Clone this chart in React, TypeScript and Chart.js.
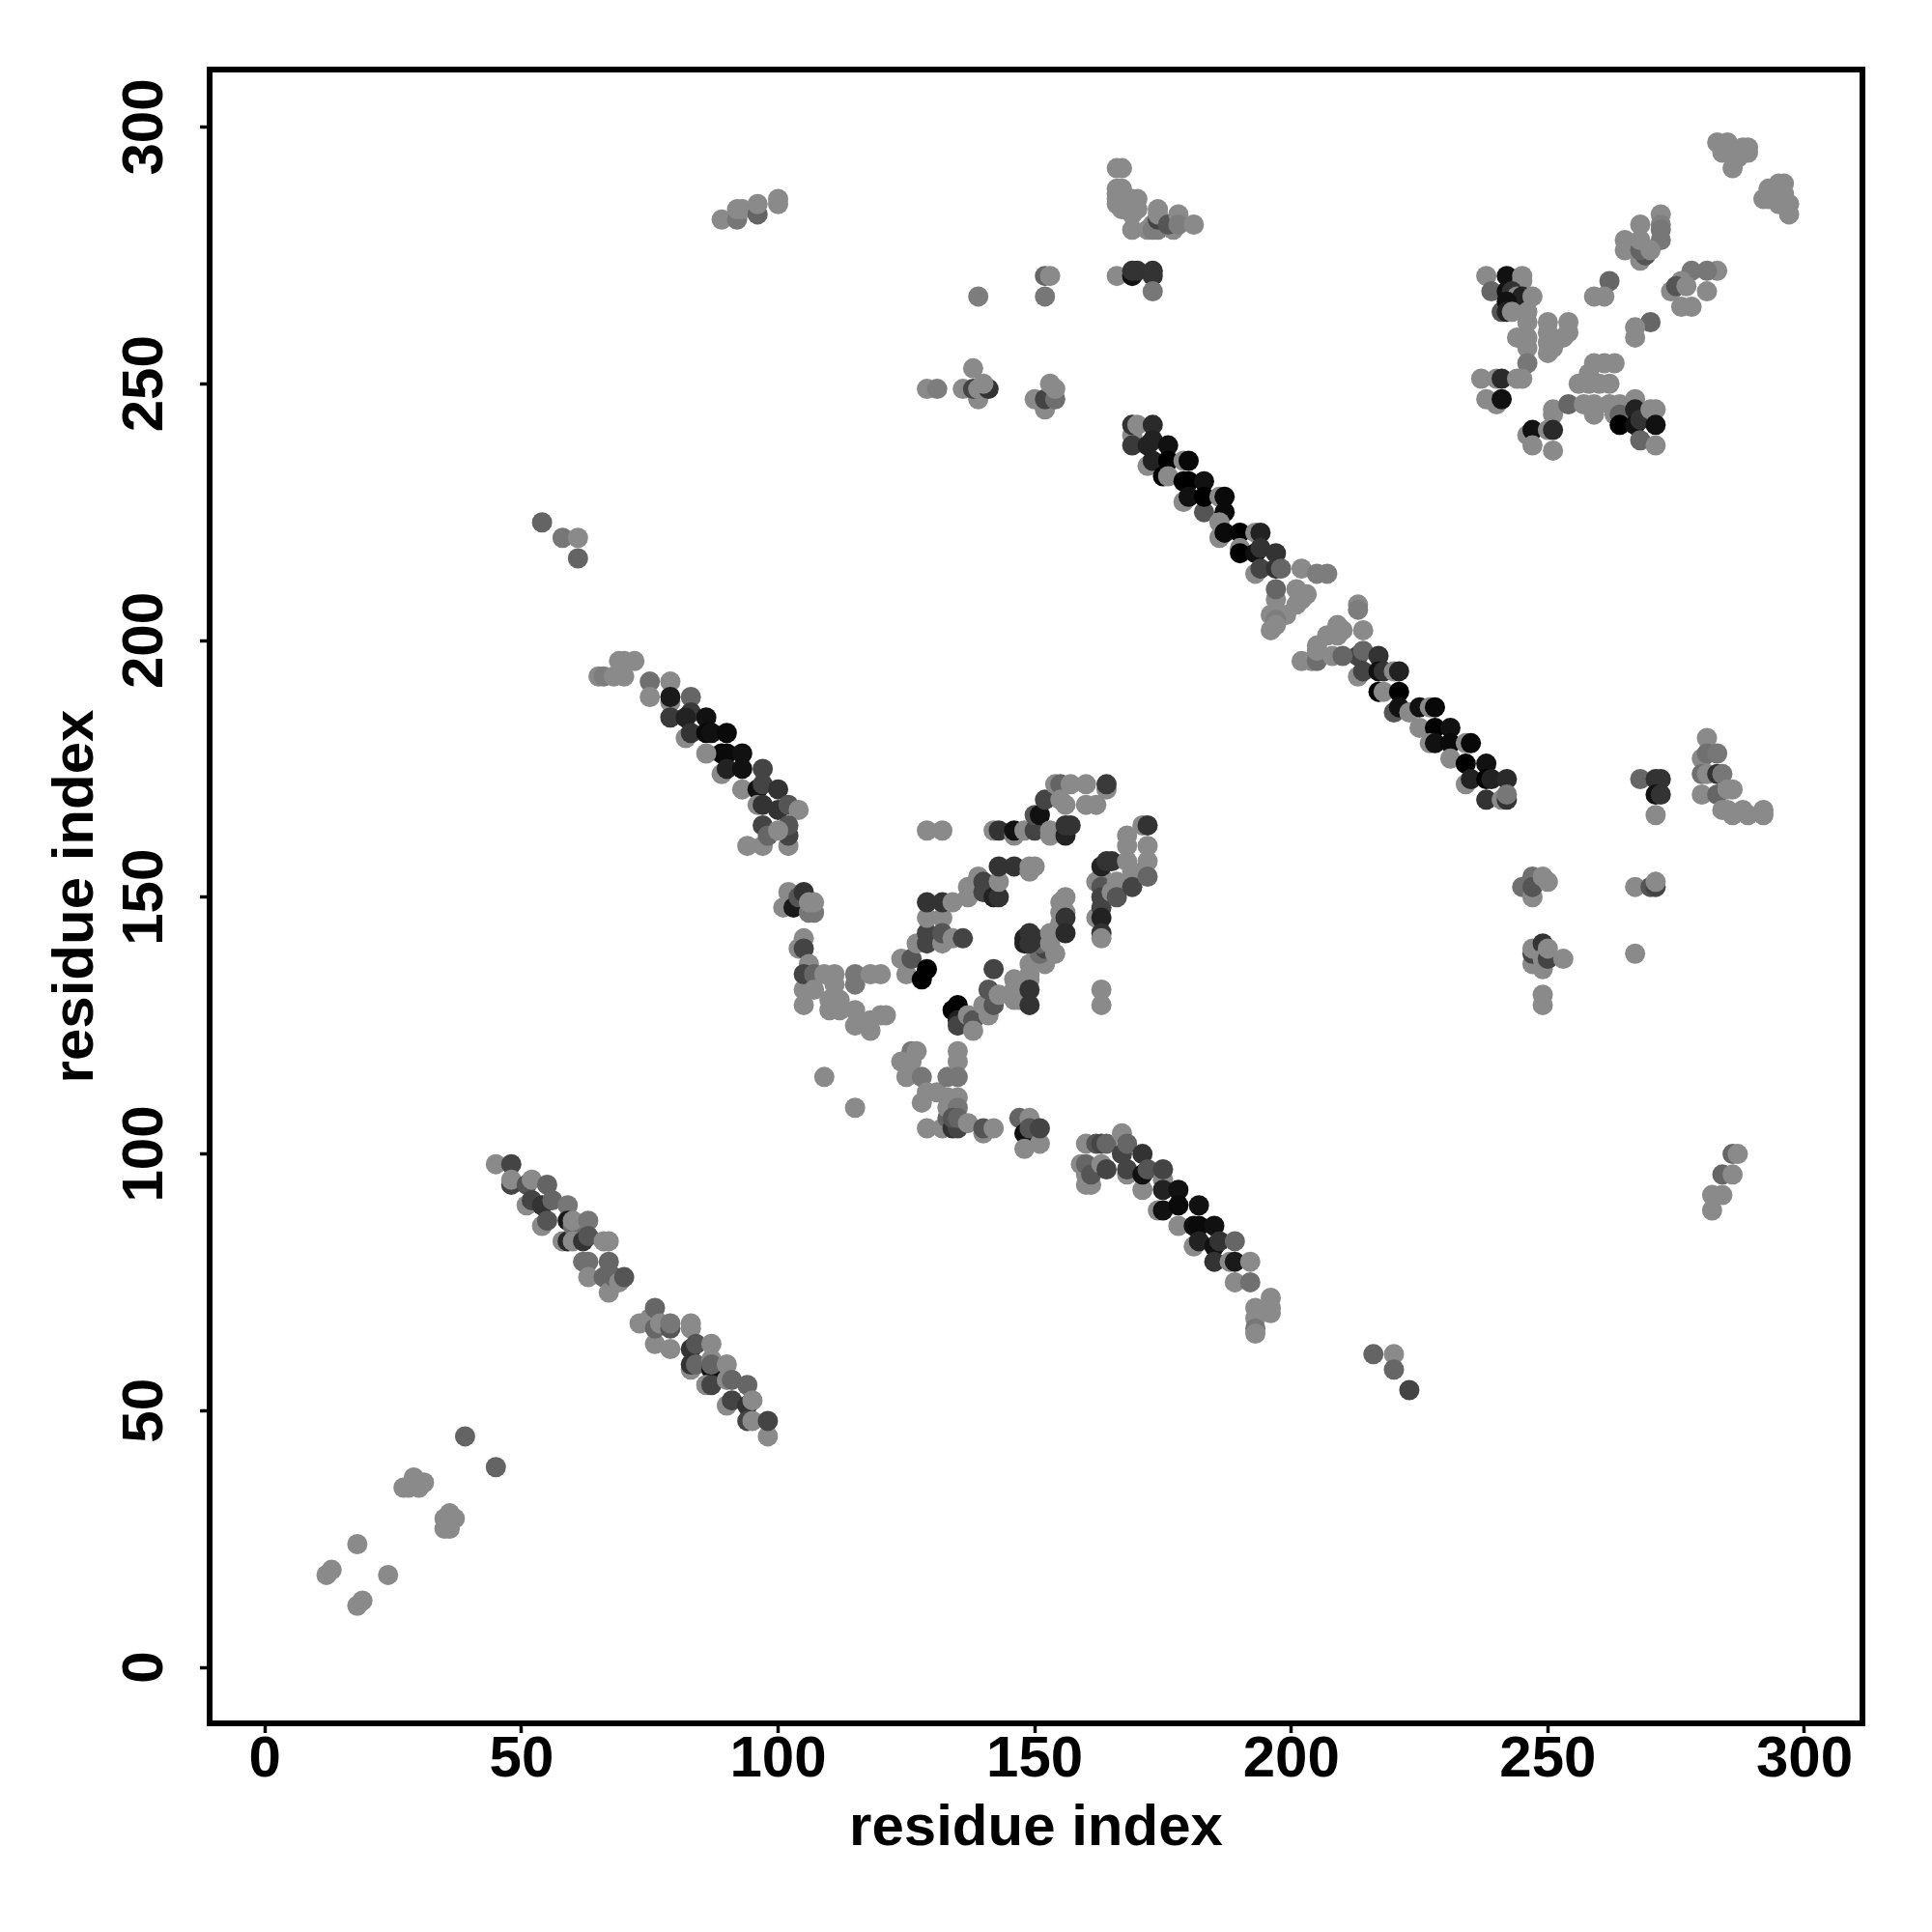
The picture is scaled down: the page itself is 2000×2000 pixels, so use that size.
import React, { useEffect, useRef } from "react";
import { Chart, registerables } from "chart.js";

Chart.register(...registerables);

const tickValues = [0, 50, 100, 150, 200, 250, 300];
const axisTitle = "residue index";
const L = 138; // lightest contact shade

type P = [number, number, number?];

const cornerLow: P[] = [[12,18],[13,19],[18,24],[24,18],[18,12],[19,13],[27,35],[28,35],[29,37],[30,36],[30,35],[31,36],[35,27],[36,27],[35,29],[36,30],[37,29],[36,28],[39,45,100],[45,39,100]];
const strandA: P[] = [[45,98],[48,98,68],[48,94,68],[48,95],[51,90],[51,94,85],[52,95],[55,94,100],[52,91,68],[54,90,51],[56,91,102],[54,86],[55,87,85],[59,90,119],[58,83],[59,83,40],[59,87,26],[60,86,110],[60,87],[63,87,119],[60,83],[62,83,51],[63,84,85],[66,83],[67,83],[62,79,112],[63,79,112],[67,79,102],[63,76],[66,76,102],[67,73],[68,76,102],[69,75,L],[70,76,85]];
const strandB: P[] = [[73,67],[75,68],[76,63],[76,66,102],[76,70,102],[77,67],[79,62],[79,66,85],[79,67,119],[83,67],[83,66],[83,62,51],[84,63,85],[83,58],[83,59,51],[84,59,102],[87,63],[87,58,17],[87,60],[87,59,100],[86,55],[87,55,68],[90,59],[90,56],[91,56,102],[90,51],[91,52,68],[94,55,102],[94,51,51],[95,52],[94,48,68],[95,48],[98,45],[98,48,68]];
const strandC: P[] = [[159,98],[160,94],[161,94],[160,96],[160,98,102],[161,96,85],[160,102],[162,102,85],[163,102,68],[164,102,102],[163,98],[164,97,68],[167,104],[167,100,68],[168,102,102],[168,96],[168,97,68],[171,100,51],[171,93],[171,96,17],[172,97,85],[174,89],[175,95],[175,93,34],[175,97,68],[175,89,17],[178,93,17],[178,86],[178,90,10],[181,82],[181,86,17],[182,90,17],[182,86,10],[182,83,34],[185,86,17],[185,82,17],[186,83,51],[189,83,102],[185,79,51],[188,79],[189,79,26],[192,79],[189,75],[192,75,112],[193,70],[193,68],[193,66,119],[193,65],[196,72],[196,70],[196,69]];
const strandD: P[] = [[65,193],[66,193,125],[68,193],[70,193],[69,196],[70,196],[72,196],[75,192,112],[75,189],[79,192],[79,188],[79,189,26],[79,185,58],[83,189,102],[83,186,58],[82,185,34],[86,185,17],[82,181],[83,182,51],[86,182,10],[87,182,17],[89,178,0],[86,178],[90,182,10],[90,178,10],[93,178,17],[89,174],[90,175,34],[93,175,17],[93,171],[96,171,17],[97,175,68],[97,172,68],[100,171,51],[96,168],[97,168,51],[100,167,51],[102,168,85],[104,167],[94,160],[97,160],[97,164,68],[98,162,102],[102,160],[102,162,68],[102,164,85],[100,163]];
const helixLeft: P[] = [[102,151],[101,148],[103,148,26],[104,150,85],[105,151,51],[106,147,119],[107,147,119],[106,149],[107,149]];
const lowerWing: P[] = [[105,142],[104,140],[105,140,68],[106,137],[105,129],[105,132],[105,135,68],[107,135,102],[107,132],[109,135],[111,135],[111,133],[115,135,119],[115,133,119],[118,135],[120,135],[110,130],[112,130],[110,128],[112,128],[115,128],[115,125],[118,124],[118,126],[120,127],[121,127],[109,115],[115,109]];
const lowerStem: P[] = [[126,120,119],[127,120],[124,118],[126,118],[125,115],[128,115,119],[129,112],[128,110],[131,112],[133,115,119],[135,120],[135,118],[135,115,119],[133,111],[135,111],[129,105],[132,105],[133,107,100],[134,105,51],[135,105,68],[133,109],[135,109,119],[134,107,85],[135,107,100],[137,106],[140,104],[140,105,85],[142,105],[147,107,100],[148,104,17],[149,107],[148,101],[149,105,85],[151,102],[151,105,68]];
const centerArcA: P[] = [[124,138],[125,135],[126,138,85],[127,141],[128,134,0],[129,136,0],[129,141,68],[129,143,68],[129,146],[132,146],[132,141],[132,143,85],[134,142],[136,142,68],[129,149,51],[132,149,51],[134,149],[137,150],[137,152],[139,154],[140,153,68],[140,151,68],[142,150,34],[143,150,51],[143,153],[143,156,51],[146,156,51],[149,155],[149,156],[150,156]];
const centerArcB: P[] = [[129,163],[132,163],[142,163],[143,163,51],[146,162],[146,163,17],[148,163],[150,163,68],[150,166,85],[151,166,17],[152,169,68],[153,162],[153,163],[154,172],[155,172,100],[157,172],[160,172],[155,169],[156,168],[160,168],[162,168],[156,162,34],[156,164,51],[157,164,51],[164,171],[164,172,58]];
const centerArcC: P[] = [[134,128,0],[135,129,0],[135,126,34],[135,125,68],[137,127],[138,126,85],[138,124],[140,129],[141,127],[141,132,85],[142,129,85],[142,136,68],[143,131],[146,132],[146,130],[147,130],[146,134],[149,137],[149,135],[149,134],[149,132,51],[149,129,51],[151,138],[152,137],[150,140],[151,139,110],[152,140,68],[151,141,102],[148,141,34],[148,142,34],[149,141,51],[149,143,51],[150,142,51],[153,141],[153,143],[154,143],[154,139],[155,145],[155,147],[155,149],[156,150],[156,147],[156,146,51],[156,143,42]];
const centerArcD: P[] = [[162,153],[162,146],[163,154],[163,152,85],[163,150,68],[163,148,68],[163,146,34],[163,143,51],[163,142],[163,156,34],[164,157,51],[165,157,51],[166,153],[165,151],[166,150,85],[168,162],[168,160],[168,157],[169,155],[169,152,68],[172,160],[172,157],[172,154,102],[171,164],[172,164,51],[163,132],[163,129]];
const diagonalA: P[] = [[169,240],[169,242,51],[170,242],[173,242,42],[169,238,58],[172,238,34],[173,239,34],[176,238,17],[172,234],[173,235,34],[176,235,0],[179,235],[180,235,8],[175,232,0],[176,232],[179,231,0],[180,231,0],[183,231,17],[179,227],[180,228,17],[183,225,85],[183,228,0],[186,228],[187,228,10],[187,225,10],[186,223],[186,220],[187,221,10],[190,221,0],[190,218],[190,217,0],[193,221],[194,221,34],[193,217,17],[194,218,51],[197,217,51],[193,213],[194,214,68],[197,214,51],[198,214,102]];
const diagonalGap: P[] = [[202,214],[205,213,125],[207,213,125],[197,208],[197,210,102],[201,210],[203,209],[202,208],[201,207],[199,205],[196,205],[197,204,125],[196,202],[197,203],[213,207],[213,206,125],[214,202],[209,203],[207,201],[210,202],[209,201],[205,199],[202,196],[204,196],[205,196,110],[205,198],[208,197],[210,197,102]];
const diagonalB: P[] = [[213,197,68],[214,198,102],[213,193],[214,194,68],[217,197,51],[217,194,17],[218,194,51],[217,190,0],[218,190],[220,194],[221,194,34],[221,190,0],[220,186,85],[221,187,17],[223,186],[225,187,17],[227,187],[228,187,8],[225,183],[228,183,0],[231,183,17],[227,180],[228,180,17],[231,180,10],[231,177],[234,180],[235,180,8],[234,176,0],[238,176,17],[234,172],[235,173,34],[238,173,0],[239,173,34],[242,173,42],[238,169,51],[241,169],[242,169,51],[242,170,119]];
const topCluster: P[] = [[166,292],[167,292],[166,288],[166,287],[166,286],[166,285],[167,288],[167,284],[169,286],[170,286],[169,285],[170,284],[169,283],[169,280],[173,281],[172,280],[173,280,125],[174,280,125],[174,282,68],[174,284],[174,283],[177,280],[176,281,85],[178,283],[178,281,125],[181,281],[166,271],[169,271,17],[170,272,51],[169,272,51],[173,272,51],[173,271,51],[173,268,119],[152,271,102],[153,271],[152,267,119]];
const midBlocks: P[] = [[129,249],[131,249,125],[136,249],[139,267,125],[138,253],[139,247],[138,249,68],[139,249],[141,249,51],[140,250],[150,247],[152,245],[152,247,68],[154,247,110],[153,250],[154,249]];
const topRightA: P[] = [[283,297],[285,297],[284,295],[286,295],[287,295],[288,296],[289,296],[289,295],[287,294],[286,292],[296,289],[295,289],[293,288],[296,287],[292,286],[293,286],[295,285],[297,285],[297,283]];
const topRightB: P[] = [[272,283],[272,281,128],[272,280,119],[272,278,119],[268,281],[265,278],[265,276],[268,274],[269,275,85],[268,276,100],[268,278],[270,276],[262,270,102],[259,267],[261,267],[270,262,102],[267,261],[267,259],[283,272],[281,272,119],[278,272,119],[276,270],[274,268],[275,269,85],[277,269],[281,268],[276,265],[278,265]];
const crossLeft: P[] = [[238,271],[242,271,17],[245,271],[245,270],[239,268,102],[242,268,17],[243,268,51],[244,267],[245,267,34],[247,267],[241,264,85],[242,266,17],[242,264,34],[243,264],[246,264],[246,262],[244,259],[246,259],[246,257],[246,254,119],[250,262],[250,260],[250,258],[250,256],[254,262],[254,260],[253,259],[251,257],[237,251],[240,251],[241,251,42],[244,251],[245,251],[238,247],[240,246],[241,247,17]];
const crossRight: P[] = [[251,245],[251,244],[254,246,102],[257,246],[259,246],[259,244],[262,246],[259,254],[261,254],[263,254],[258,252],[256,250],[258,250],[260,250],[262,250],[246,240],[247,241,17],[247,238],[250,241],[251,241,42],[251,237],[263,244],[264,246],[264,244,102],[264,242,0],[267,247],[267,245,34],[267,242,17],[268,243,51],[270,245],[271,245],[271,242,17],[268,239,102],[271,238]];
const sideGroupA: P[] = [[268,173,102],[271,173,51],[272,173,51],[271,166],[271,170,17],[272,170,51],[281,181],[280,177],[281,178,112],[283,178,119],[280,174,112],[281,174],[280,170],[283,174,51],[284,174,119],[283,170,102],[285,171],[286,171],[284,167],[285,167],[286,166],[288,167],[289,166],[292,167],[292,166]];
const sideGroupB: P[] = [[245,152,112],[247,154,112],[247,150],[247,152,85],[249,154],[250,153],[267,152],[270,152,85],[271,152,68],[271,153],[247,137],[247,139,68],[247,140],[249,141,51],[249,138],[249,136],[250,138,68],[250,140],[253,138],[249,131],[249,129],[267,139]];
const scatterFew: P[] = [[54,223,100],[58,220,119],[61,220],[61,216,100],[89,282],[92,282,119],[92,284],[93,284],[96,283,100],[96,285],[100,285],[100,286],[216,61,100],[220,61],[220,58,102],[223,54,68],[282,89],[282,92],[284,92],[284,96,102],[286,96],[286,100,102],[287,100]];

const contactGroups: P[][] = [cornerLow, strandA, strandB, strandC, strandD, helixLeft, lowerWing, lowerStem, centerArcA, centerArcB, centerArcC, centerArcD, diagonalA, diagonalGap, diagonalB, topCluster, midBlocks, topRightA, topRightB, crossLeft, crossRight, sideGroupA, sideGroupB, scatterFew];

const grey = (g?: number) => {
  const v = g ?? L;
  return `rgb(${v},${v},${v})`;
};

const frame = {
  id: "frame",
  afterDatasetsDraw(chart: any) {
    const { ctx, chartArea: a } = chart;
    ctx.save();
    ctx.strokeStyle = "#000";
    ctx.lineWidth = 6;
    ctx.lineJoin = "miter";
    ctx.strokeRect(a.left, a.top, a.right - a.left, a.bottom - a.top);
    ctx.restore();
  },
};

export default function App() {
  const ref = useRef<HTMLCanvasElement>(null);
  useEffect(() => {
    const font = { family: "'Liberation Sans'", size: 60, weight: "bold" as const };
    const setTicks = (axis: any) => {
      axis.ticks = tickValues.map((value) => ({ value }));
    };
    const grid = { display: true, drawOnChartArea: false, drawTicks: true, tickLength: 10, tickWidth: 3.5, tickColor: "#000" };
    const chart = new Chart(ref.current!, {
      type: "scatter",
      data: {
        datasets: contactGroups.map((group) => ({
          data: group.map((p) => ({ x: p[0], y: p[1] })),
          backgroundColor: group.map((p) => grey(p[2])),
          borderWidth: 0,
          pointRadius: 10.5,
          pointBorderWidth: 0,
        })),
      },
      options: {
        responsive: false,
        animation: false,
        devicePixelRatio: 1,
        layout: { padding: { top: 72, right: 72, left: 0, bottom: 0 } },
        plugins: { legend: { display: false }, tooltip: { enabled: false } },
        scales: {
          x: {
            type: "linear",
            min: -10.78,
            max: 311.3,
            afterBuildTicks: setTicks,
            afterFit: (s: any) => { s.height = 216; },
            grid,
            border: { display: false },
            ticks: { autoSkip: false, maxRotation: 0, minRotation: 0, padding: -8, color: "#000", font, callback: (v: any) => String(v) },
            title: { display: true, text: axisTitle, color: "#000", font, padding: { top: 0, bottom: 71 } },
          },
          y: {
            type: "linear",
            min: -10.9,
            max: 311.2,
            afterBuildTicks: setTicks,
            afterFit: (s: any) => { s.width = 217; },
            grid,
            border: { display: false },
            ticks: { autoSkip: false, maxRotation: 90, minRotation: 90, padding: 5, crossAlign: "center", color: "#000", font, callback: (v: any) => String(v) },
            title: { display: true, text: axisTitle, color: "#000", font, padding: { top: 43, bottom: 0 } },
          },
        },
      },
      plugins: [frame],
    } as any);
    return () => chart.destroy();
  }, []);
  return (
    <div style={{ position: "absolute", left: 0, top: 0, width: 2000, height: 2000, background: "#fff" }}>
      <canvas ref={ref} width={2000} height={2000} style={{ display: "block" }} />
    </div>
  );
}
